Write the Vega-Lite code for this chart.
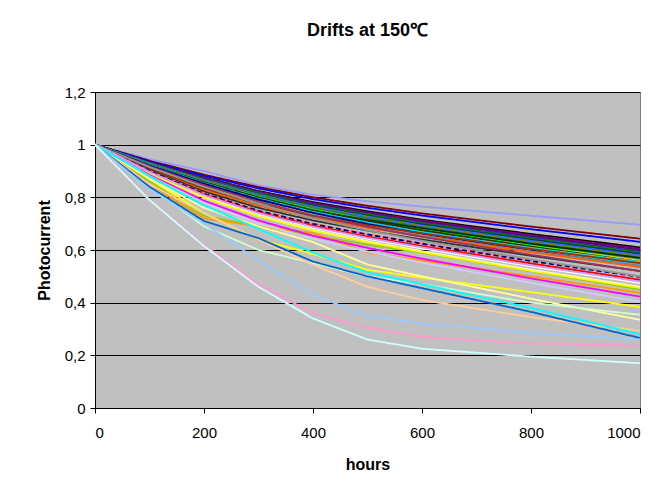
{
"$schema":"https://vega.github.io/schema/vega-lite/v6.json",
"width":545,"height":316,
"autosize":{"type":"none"},
"padding":{"left":95,"top":92,"right":30,"bottom":96},
"background":"white",
"title":{"text":"Drifts at 150℃","fontSize":18,"font":"Liberation Sans","fontWeight":"bold","offset":45,"anchor":"middle","color":"black"},
"datasets":{"d":[
{"s":"S01","h":0,"v":1},{"s":"S01","h":100,"v":0.945},{"s":"S01","h":200,"v":0.9},{"s":"S01","h":300,"v":0.845},{"s":"S01","h":400,"v":0.81},{"s":"S01","h":500,"v":0.785},{"s":"S01","h":600,"v":0.765},{"s":"S01","h":800,"v":0.73},{"s":"S01","h":1000,"v":0.696},
{"s":"S02","h":0,"v":1},{"s":"S02","h":100,"v":0.939},{"s":"S02","h":200,"v":0.886},{"s":"S02","h":300,"v":0.839},{"s":"S02","h":400,"v":0.8},{"s":"S02","h":500,"v":0.768},{"s":"S02","h":600,"v":0.739},{"s":"S02","h":800,"v":0.689},{"s":"S02","h":1000,"v":0.643},
{"s":"S03","h":0,"v":1},{"s":"S03","h":100,"v":0.937},{"s":"S03","h":200,"v":0.882},{"s":"S03","h":300,"v":0.834},{"s":"S03","h":400,"v":0.793},{"s":"S03","h":500,"v":0.76},{"s":"S03","h":600,"v":0.731},{"s":"S03","h":800,"v":0.679},{"s":"S03","h":1000,"v":0.631},
{"s":"S04","h":0,"v":1},{"s":"S04","h":100,"v":0.934},{"s":"S04","h":200,"v":0.875},{"s":"S04","h":300,"v":0.824},{"s":"S04","h":400,"v":0.782},{"s":"S04","h":500,"v":0.747},{"s":"S04","h":600,"v":0.715},{"s":"S04","h":800,"v":0.661},{"s":"S04","h":1000,"v":0.61},
{"s":"S05","h":0,"v":1},{"s":"S05","h":100,"v":0.933},{"s":"S05","h":200,"v":0.874},{"s":"S05","h":300,"v":0.822},{"s":"S05","h":400,"v":0.779},{"s":"S05","h":500,"v":0.743},{"s":"S05","h":600,"v":0.712},{"s":"S05","h":800,"v":0.656},{"s":"S05","h":1000,"v":0.605},
{"s":"S06","h":0,"v":1},{"s":"S06","h":100,"v":0.932},{"s":"S06","h":200,"v":0.872},{"s":"S06","h":300,"v":0.82},{"s":"S06","h":400,"v":0.776},{"s":"S06","h":500,"v":0.74},{"s":"S06","h":600,"v":0.708},{"s":"S06","h":800,"v":0.652},{"s":"S06","h":1000,"v":0.6},
{"s":"S07","h":0,"v":1},{"s":"S07","h":100,"v":0.931},{"s":"S07","h":200,"v":0.87},{"s":"S07","h":300,"v":0.818},{"s":"S07","h":400,"v":0.773},{"s":"S07","h":500,"v":0.737},{"s":"S07","h":600,"v":0.704},{"s":"S07","h":800,"v":0.648},{"s":"S07","h":1000,"v":0.595},
{"s":"S08","h":0,"v":1},{"s":"S08","h":100,"v":0.93},{"s":"S08","h":200,"v":0.869},{"s":"S08","h":300,"v":0.816},{"s":"S08","h":400,"v":0.77},{"s":"S08","h":500,"v":0.734},{"s":"S08","h":600,"v":0.701},{"s":"S08","h":800,"v":0.643},{"s":"S08","h":1000,"v":0.59},
{"s":"S09","h":0,"v":1},{"s":"S09","h":100,"v":0.929},{"s":"S09","h":200,"v":0.867},{"s":"S09","h":300,"v":0.813},{"s":"S09","h":400,"v":0.768},{"s":"S09","h":500,"v":0.73},{"s":"S09","h":600,"v":0.697},{"s":"S09","h":800,"v":0.639},{"s":"S09","h":1000,"v":0.585},
{"s":"S10","h":0,"v":1},{"s":"S10","h":100,"v":0.929},{"s":"S10","h":200,"v":0.866},{"s":"S10","h":300,"v":0.811},{"s":"S10","h":400,"v":0.765},{"s":"S10","h":500,"v":0.727},{"s":"S10","h":600,"v":0.693},{"s":"S10","h":800,"v":0.635},{"s":"S10","h":1000,"v":0.58},
{"s":"S11","h":0,"v":1},{"s":"S11","h":100,"v":0.928},{"s":"S11","h":200,"v":0.864},{"s":"S11","h":300,"v":0.809},{"s":"S11","h":400,"v":0.762},{"s":"S11","h":500,"v":0.724},{"s":"S11","h":600,"v":0.69},{"s":"S11","h":800,"v":0.63},{"s":"S11","h":1000,"v":0.575},
{"s":"S12","h":0,"v":1},{"s":"S12","h":100,"v":0.927},{"s":"S12","h":200,"v":0.862},{"s":"S12","h":300,"v":0.807},{"s":"S12","h":400,"v":0.759},{"s":"S12","h":500,"v":0.721},{"s":"S12","h":600,"v":0.686},{"s":"S12","h":800,"v":0.626},{"s":"S12","h":1000,"v":0.57},
{"s":"S13","h":0,"v":1},{"s":"S13","h":100,"v":0.926},{"s":"S13","h":200,"v":0.861},{"s":"S13","h":300,"v":0.804},{"s":"S13","h":400,"v":0.756},{"s":"S13","h":500,"v":0.717},{"s":"S13","h":600,"v":0.682},{"s":"S13","h":800,"v":0.622},{"s":"S13","h":1000,"v":0.565},
{"s":"S14","h":0,"v":1},{"s":"S14","h":100,"v":0.925},{"s":"S14","h":200,"v":0.859},{"s":"S14","h":300,"v":0.802},{"s":"S14","h":400,"v":0.754},{"s":"S14","h":500,"v":0.714},{"s":"S14","h":600,"v":0.679},{"s":"S14","h":800,"v":0.617},{"s":"S14","h":1000,"v":0.56},
{"s":"S15","h":0,"v":1},{"s":"S15","h":100,"v":0.915},{"s":"S15","h":200,"v":0.845},{"s":"S15","h":300,"v":0.79},{"s":"S15","h":400,"v":0.748},{"s":"S15","h":500,"v":0.714},{"s":"S15","h":600,"v":0.683},{"s":"S15","h":800,"v":0.624},{"s":"S15","h":1000,"v":0.57},
{"s":"S16","h":0,"v":1},{"s":"S16","h":100,"v":0.912},{"s":"S16","h":200,"v":0.837},{"s":"S16","h":300,"v":0.78},{"s":"S16","h":400,"v":0.736},{"s":"S16","h":500,"v":0.701},{"s":"S16","h":600,"v":0.67},{"s":"S16","h":800,"v":0.613},{"s":"S16","h":1000,"v":0.56},
{"s":"S17","h":0,"v":1},{"s":"S17","h":100,"v":0.924},{"s":"S17","h":200,"v":0.856},{"s":"S17","h":300,"v":0.798},{"s":"S17","h":400,"v":0.748},{"s":"S17","h":500,"v":0.708},{"s":"S17","h":600,"v":0.672},{"s":"S17","h":800,"v":0.609},{"s":"S17","h":1000,"v":0.55},
{"s":"S18","h":0,"v":1},{"s":"S18","h":100,"v":0.924},{"s":"S18","h":200,"v":0.858},{"s":"S18","h":300,"v":0.8},{"s":"S18","h":400,"v":0.751},{"s":"S18","h":500,"v":0.711},{"s":"S18","h":600,"v":0.675},{"s":"S18","h":800,"v":0.613},{"s":"S18","h":1000,"v":0.555},
{"s":"S19","h":0,"v":1},{"s":"S19","h":100,"v":0.911},{"s":"S19","h":200,"v":0.835},{"s":"S19","h":300,"v":0.778},{"s":"S19","h":400,"v":0.733},{"s":"S19","h":500,"v":0.697},{"s":"S19","h":600,"v":0.666},{"s":"S19","h":800,"v":0.608},{"s":"S19","h":1000,"v":0.555},
{"s":"S20","h":0,"v":1},{"s":"S20","h":100,"v":0.923},{"s":"S20","h":200,"v":0.854},{"s":"S20","h":300,"v":0.795},{"s":"S20","h":400,"v":0.745},{"s":"S20","h":500,"v":0.704},{"s":"S20","h":600,"v":0.668},{"s":"S20","h":800,"v":0.604},{"s":"S20","h":1000,"v":0.545},
{"s":"S21","h":0,"v":1},{"s":"S21","h":100,"v":0.921},{"s":"S21","h":200,"v":0.852},{"s":"S21","h":300,"v":0.792},{"s":"S21","h":400,"v":0.741},{"s":"S21","h":500,"v":0.699},{"s":"S21","h":600,"v":0.662},{"s":"S21","h":800,"v":0.597},{"s":"S21","h":1000,"v":0.537},
{"s":"S22","h":0,"v":1},{"s":"S22","h":100,"v":0.908},{"s":"S22","h":200,"v":0.83},{"s":"S22","h":300,"v":0.77},{"s":"S22","h":400,"v":0.724},{"s":"S22","h":500,"v":0.687},{"s":"S22","h":600,"v":0.655},{"s":"S22","h":800,"v":0.595},{"s":"S22","h":1000,"v":0.54},
{"s":"S23","h":0,"v":1},{"s":"S23","h":100,"v":0.907},{"s":"S23","h":200,"v":0.828},{"s":"S23","h":300,"v":0.768},{"s":"S23","h":400,"v":0.721},{"s":"S23","h":500,"v":0.684},{"s":"S23","h":600,"v":0.651},{"s":"S23","h":800,"v":0.591},{"s":"S23","h":1000,"v":0.535},
{"s":"S24","h":0,"v":1},{"s":"S24","h":100,"v":0.91},{"s":"S24","h":200,"v":0.834},{"s":"S24","h":300,"v":0.775},{"s":"S24","h":400,"v":0.73},{"s":"S24","h":500,"v":0.694},{"s":"S24","h":600,"v":0.663},{"s":"S24","h":800,"v":0.604},{"s":"S24","h":1000,"v":0.55},
{"s":"S25","h":0,"v":1},{"s":"S25","h":100,"v":0.904},{"s":"S25","h":200,"v":0.822},{"s":"S25","h":300,"v":0.76},{"s":"S25","h":400,"v":0.712},{"s":"S25","h":500,"v":0.674},{"s":"S25","h":600,"v":0.64},{"s":"S25","h":800,"v":0.578},{"s":"S25","h":1000,"v":0.52},
{"s":"S26","h":0,"v":1},{"s":"S26","h":100,"v":0.918},{"s":"S26","h":200,"v":0.846},{"s":"S26","h":300,"v":0.784},{"s":"S26","h":400,"v":0.731},{"s":"S26","h":500,"v":0.688},{"s":"S26","h":600,"v":0.65},{"s":"S26","h":800,"v":0.582},{"s":"S26","h":1000,"v":0.52},
{"s":"S27","h":0,"v":1},{"s":"S27","h":100,"v":0.9},{"s":"S27","h":200,"v":0.815},{"s":"S27","h":300,"v":0.75},{"s":"S27","h":400,"v":0.7},{"s":"S27","h":500,"v":0.66},{"s":"S27","h":600,"v":0.625},{"s":"S27","h":800,"v":0.56},{"s":"S27","h":1000,"v":0.5},
{"s":"S28","h":0,"v":1},{"s":"S28","h":100,"v":0.9},{"s":"S28","h":200,"v":0.814},{"s":"S28","h":300,"v":0.749},{"s":"S28","h":400,"v":0.699},{"s":"S28","h":500,"v":0.659},{"s":"S28","h":600,"v":0.624},{"s":"S28","h":800,"v":0.558},{"s":"S28","h":1000,"v":0.498},
{"s":"S29","h":0,"v":1},{"s":"S29","h":100,"v":0.915},{"s":"S29","h":200,"v":0.84},{"s":"S29","h":300,"v":0.775},{"s":"S29","h":400,"v":0.72},{"s":"S29","h":500,"v":0.675},{"s":"S29","h":600,"v":0.635},{"s":"S29","h":800,"v":0.565},{"s":"S29","h":1000,"v":0.5},
{"s":"S30","h":0,"v":1},{"s":"S30","h":100,"v":0.897},{"s":"S30","h":200,"v":0.81},{"s":"S30","h":300,"v":0.743},{"s":"S30","h":400,"v":0.692},{"s":"S30","h":500,"v":0.651},{"s":"S30","h":600,"v":0.615},{"s":"S30","h":800,"v":0.549},{"s":"S30","h":1000,"v":0.487},
{"s":"S31","h":0,"v":1},{"s":"S31","h":100,"v":0.895},{"s":"S31","h":200,"v":0.806},{"s":"S31","h":300,"v":0.738},{"s":"S31","h":400,"v":0.685},{"s":"S31","h":500,"v":0.643},{"s":"S31","h":600,"v":0.606},{"s":"S31","h":800,"v":0.538},{"s":"S31","h":1000,"v":0.475},
{"s":"S32","h":0,"v":1},{"s":"S32","h":100,"v":0.86},{"s":"S32","h":200,"v":0.73},{"s":"S32","h":300,"v":0.69},{"s":"S32","h":400,"v":0.655},{"s":"S32","h":500,"v":0.62},{"s":"S32","h":600,"v":0.59},{"s":"S32","h":800,"v":0.52},{"s":"S32","h":1000,"v":0.45},
{"s":"S33","h":0,"v":1},{"s":"S33","h":100,"v":0.892},{"s":"S33","h":200,"v":0.8},{"s":"S33","h":300,"v":0.73},{"s":"S33","h":400,"v":0.676},{"s":"S33","h":500,"v":0.633},{"s":"S33","h":600,"v":0.595},{"s":"S33","h":800,"v":0.525},{"s":"S33","h":1000,"v":0.46},
{"s":"S34","h":0,"v":1},{"s":"S34","h":100,"v":0.891},{"s":"S34","h":200,"v":0.799},{"s":"S34","h":300,"v":0.728},{"s":"S34","h":400,"v":0.674},{"s":"S34","h":500,"v":0.63},{"s":"S34","h":600,"v":0.592},{"s":"S34","h":800,"v":0.521},{"s":"S34","h":1000,"v":0.456},
{"s":"S35","h":0,"v":1},{"s":"S35","h":100,"v":0.85},{"s":"S35","h":200,"v":0.72},{"s":"S35","h":300,"v":0.69},{"s":"S35","h":400,"v":0.665},{"s":"S35","h":500,"v":0.59},{"s":"S35","h":600,"v":0.56},{"s":"S35","h":800,"v":0.5},{"s":"S35","h":1000,"v":0.437},
{"s":"S36","h":0,"v":1},{"s":"S36","h":100,"v":0.885},{"s":"S36","h":200,"v":0.787},{"s":"S36","h":300,"v":0.712},{"s":"S36","h":400,"v":0.654},{"s":"S36","h":500,"v":0.608},{"s":"S36","h":600,"v":0.567},{"s":"S36","h":800,"v":0.492},{"s":"S36","h":1000,"v":0.423},
{"s":"S37","h":0,"v":1},{"s":"S37","h":100,"v":0.881},{"s":"S37","h":200,"v":0.779},{"s":"S37","h":300,"v":0.7},{"s":"S37","h":400,"v":0.642},{"s":"S37","h":500,"v":0.594},{"s":"S37","h":600,"v":0.552},{"s":"S37","h":800,"v":0.475},{"s":"S37","h":1000,"v":0.403},
{"s":"S38","h":0,"v":1},{"s":"S38","h":100,"v":0.896},{"s":"S38","h":200,"v":0.808},{"s":"S38","h":300,"v":0.74},{"s":"S38","h":400,"v":0.688},{"s":"S38","h":500,"v":0.646},{"s":"S38","h":600,"v":0.61},{"s":"S38","h":800,"v":0.542},{"s":"S38","h":1000,"v":0.48},
{"s":"S39","h":0,"v":1},{"s":"S39","h":100,"v":0.87},{"s":"S39","h":200,"v":0.74},{"s":"S39","h":300,"v":0.64},{"s":"S39","h":400,"v":0.585},{"s":"S39","h":500,"v":0.525},{"s":"S39","h":600,"v":0.495},{"s":"S39","h":800,"v":0.44},{"s":"S39","h":1000,"v":0.384},
{"s":"S40","h":0,"v":1},{"s":"S40","h":100,"v":0.87},{"s":"S40","h":200,"v":0.76},{"s":"S40","h":300,"v":0.69},{"s":"S40","h":400,"v":0.63},{"s":"S40","h":500,"v":0.545},{"s":"S40","h":600,"v":0.5},{"s":"S40","h":800,"v":0.415},{"s":"S40","h":1000,"v":0.335},
{"s":"S41","h":0,"v":1},{"s":"S41","h":100,"v":0.84},{"s":"S41","h":200,"v":0.69},{"s":"S41","h":300,"v":0.6},{"s":"S41","h":400,"v":0.55},{"s":"S41","h":500,"v":0.5},{"s":"S41","h":600,"v":0.47},{"s":"S41","h":800,"v":0.4},{"s":"S41","h":1000,"v":0.354},
{"s":"S42","h":0,"v":1},{"s":"S42","h":100,"v":0.85},{"s":"S42","h":200,"v":0.74},{"s":"S42","h":300,"v":0.64},{"s":"S42","h":400,"v":0.544},{"s":"S42","h":500,"v":0.46},{"s":"S42","h":600,"v":0.41},{"s":"S42","h":800,"v":0.345},{"s":"S42","h":1000,"v":0.293},
{"s":"S43","h":0,"v":1},{"s":"S43","h":100,"v":0.84},{"s":"S43","h":200,"v":0.71},{"s":"S43","h":300,"v":0.645},{"s":"S43","h":400,"v":0.556},{"s":"S43","h":500,"v":0.5},{"s":"S43","h":600,"v":0.455},{"s":"S43","h":800,"v":0.365},{"s":"S43","h":1000,"v":0.266},
{"s":"S44","h":0,"v":1},{"s":"S44","h":100,"v":0.88},{"s":"S44","h":200,"v":0.77},{"s":"S44","h":300,"v":0.68},{"s":"S44","h":400,"v":0.59},{"s":"S44","h":500,"v":0.515},{"s":"S44","h":600,"v":0.47},{"s":"S44","h":800,"v":0.38},{"s":"S44","h":1000,"v":0.28},
{"s":"S45","h":0,"v":1},{"s":"S45","h":100,"v":0.83},{"s":"S45","h":200,"v":0.7},{"s":"S45","h":300,"v":0.56},{"s":"S45","h":400,"v":0.43},{"s":"S45","h":500,"v":0.35},{"s":"S45","h":600,"v":0.32},{"s":"S45","h":800,"v":0.285},{"s":"S45","h":1000,"v":0.26},
{"s":"S46","h":0,"v":1},{"s":"S46","h":100,"v":0.79},{"s":"S46","h":200,"v":0.62},{"s":"S46","h":300,"v":0.47},{"s":"S46","h":400,"v":0.36},{"s":"S46","h":500,"v":0.305},{"s":"S46","h":600,"v":0.27},{"s":"S46","h":800,"v":0.245},{"s":"S46","h":1000,"v":0.236},
{"s":"S47","h":0,"v":1},{"s":"S47","h":100,"v":0.79},{"s":"S47","h":200,"v":0.615},{"s":"S47","h":300,"v":0.46},{"s":"S47","h":400,"v":0.34},{"s":"S47","h":500,"v":0.26},{"s":"S47","h":600,"v":0.225},{"s":"S47","h":800,"v":0.195},{"s":"S47","h":1000,"v":0.17}
]},
"data":{"name":"d"},
"mark":{"type":"line","strokeWidth":1.8,"interpolate":"linear","clip":true},
"encoding":{
"x":{"field":"h","type":"quantitative","scale":{"domain":[0,1000],"nice":false,"zero":true},
"axis":{"title":"hours","values":[0,200,400,600,800,1000],"format":"d","grid":false,"labelPadding":12,"titlePadding":16}},
"y":{"field":"v","type":"quantitative","scale":{"domain":[0,1.2],"nice":false},
"axis":{"title":"Photocurrent","values":[0,0.2,0.4,0.6,0.8,1,1.2],"grid":true,"gridColor":"#000000","gridWidth":1,"gridOpacity":1,"format":".1~f","labelExpr":"replace(datum.label, '.', ',')","labelPadding":5,"titlePadding":12}},
"color":{"field":"s","type":"nominal","legend":null,"scale":{
"domain":["S01","S02","S03","S04","S05","S06","S07","S08","S09","S10","S11","S12","S13","S14","S15","S16","S17","S18","S19","S20","S21","S22","S23","S24","S25","S26","S27","S28","S29","S30","S31","S32","S33","S34","S35","S36","S37","S38","S39","S40","S41","S42","S43","S44","S45","S46","S47"],
"range":["#9999FF","#800000","#0000FF","#000000","#800080","#660066","#333399","#008000","#003366","#3366FF","#808000","#008080","#666699","#00FF00","#003300","#FFCC00","#339966","#333300","#33CCCC","#00CCFF","#000080","#808080","#FF6600","#993300","#333333","#993366","#FF8080","#000080","#969696","#FF0000","#FFFFFF","#99CC00","#FFFFCC","#FFFF00","#FF9900","#FF00FF","#CCCCFF","#CC99FF","#FFFF00","#FFFF99","#CCFFCC","#FFCC99","#0066CC","#00FFFF","#99CCFF","#FF99CC","#CCFFFF"]}},
"strokeDash":{"condition":{"test":"datum.s === 'S28'","value":[5,3]},"value":[1,0]}
},
"config":{
"view":{"fill":"#C0C0C0","stroke":"#808080","strokeWidth":1},
"axis":{"domainColor":"#000000","domainWidth":1,"tickColor":"#000000","tickSize":5,"tickWidth":1,
"labelFont":"Liberation Sans","labelFontSize":15,"labelColor":"#000000",
"titleFont":"Liberation Sans","titleFontSize":16,"titleFontWeight":"bold","titleColor":"#000000"}
}
}
